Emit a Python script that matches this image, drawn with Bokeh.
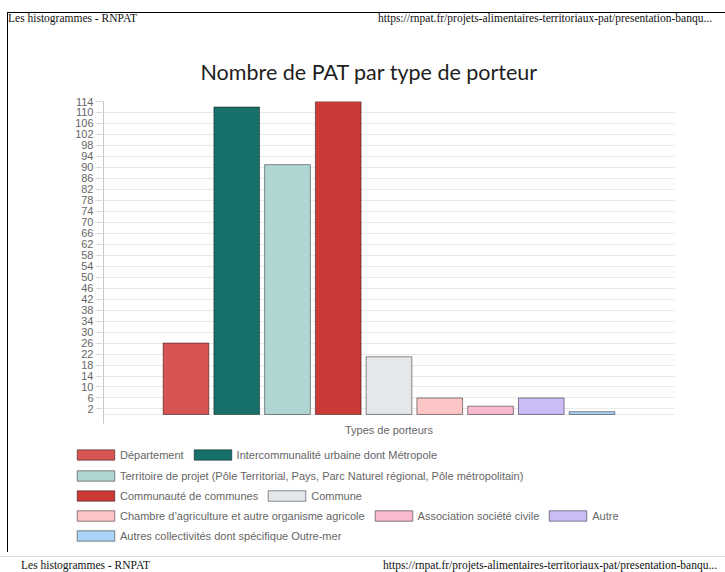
from bokeh.plotting import figure
from bokeh.models import (ColumnDataSource, Range1d, FixedTicker, Legend,
                          LegendItem, Div)
from bokeh.layouts import column, row
from bokeh.embed import file_html
from bokeh.resources import INLINE

# ---------------- data ----------------
porteurs = [
    "Département",
    "Intercommunalité urbaine dont Métropole",
    "Territoire de projet (Pôle Territorial, Pays, Parc Naturel régional, Pôle métropolitain)",
    "Communauté de communes",
    "Commune",
    "Chambre d’agriculture et autre organisme agricole",
    "Association société civile",
    "Autre",
    "Autres collectivités dont spécifique Outre-mer",
]
nombre_pat = [26, 112, 91, 114, 21, 6, 3, 6, 1]
couleurs = ["#d65452", "#17716a", "#b0d6d4", "#cc3a37", "#e4e8ea",
            "#fcc6c6", "#f7bad0", "#cbbcf6", "#a9d4f7"]
y_ticks = list(range(2, 115, 4))
x_category = "Types de porteurs"
legend_rows = [[0, 1], [2], [3, 4], [5, 6, 7], [8]]

titre = "Nombre de PAT par type de porteur"
entete_gauche = "Les histogrammes - RNPAT"
entete_droite = "https://rnpat.fr/projets-alimentaires-territoriaux-pat/presentation-banqu..."

# ---------------- bars inside the single category ----------------
n = len(porteurs)
slot = 0.8 / n
xs = [0.1 + slot * (i + 0.5) for i in range(n)]
bar_w = slot * 0.9

src = ColumnDataSource(dict(x=xs, top=nombre_pat, color=couleurs, name=porteurs))

left_border = {"background": "linear-gradient(to right, transparent 7px, #000 7px, "
                             "#000 8px, transparent 8px)"}

p = figure(width=725, height=415, output_backend="svg", toolbar_location=None,
           x_range=Range1d(0, 1), y_range=Range1d(-3.3, 114),
           min_border_left=103, min_border_right=51, min_border_top=71,
           min_border_bottom=22, tools="", title=titre)
p.outline_line_color = None
p.background_fill_color = "white"
p.border_fill_color = None
p.styles = left_border

p.title.text_font = "Lato"
p.title.text_font_size = "21.5px"
p.title.text_font_style = "normal"
p.title.text_color = "#1e1e1e"
p.title.align = "left"
p.title.offset = 97
p.title.standoff = 34

bar_kw = dict(x="x", top="top", bottom=0, width=bar_w, source=src,
              fill_color="color", line_color="black", line_alpha=0.45, line_width=1)
r = p.vbar(**bar_kw)

# y axis
p.yaxis.ticker = FixedTicker(ticks=y_ticks)
p.yaxis.axis_line_color = "#c8c8c8"
p.yaxis.major_tick_line_color = "#dcdcdc"
p.yaxis.major_tick_out = 8
p.yaxis.major_tick_in = 0
p.yaxis.minor_tick_line_color = None
p.yaxis.major_label_standoff = 2
p.yaxis.major_label_text_font = "Liberation Sans"
p.yaxis.major_label_text_font_size = "11px"
p.yaxis.major_label_text_color = "#666666"

# x axis
p.xaxis.ticker = FixedTicker(ticks=[0.5])
p.xaxis.major_label_overrides = {0.5: x_category}
p.xaxis.axis_line_color = None
p.xaxis.major_tick_line_color = None
p.xaxis.minor_tick_line_color = None
p.xaxis.major_label_standoff = -6
p.xaxis.major_label_text_font = "Liberation Sans"
p.xaxis.major_label_text_font_size = "11px"
p.xaxis.major_label_text_color = "#666666"

# grids
p.ygrid.ticker = FixedTicker(ticks=[0] + y_ticks)
p.ygrid.grid_line_color = "#e9e9e9"
p.xgrid.ticker = FixedTicker(ticks=[0, 1])
p.xgrid.grid_line_color = "#dedede"

# ---------------- legend panel (same data source, legend only) ----------------
pl = figure(width=725, height=107, output_backend="svg", toolbar_location=None,
            x_range=Range1d(0, 1), y_range=Range1d(0, 1), tools="",
            x_axis_type=None, y_axis_type=None,
            min_border_left=0, min_border_right=0, min_border_top=0,
            min_border_bottom=0)
pl.outline_line_color = None
pl.grid.visible = False
pl.background_fill_color = None
pl.border_fill_color = None
pl.styles = left_border
rl = pl.vbar(visible=False, **bar_kw)

row_bottoms = [87, 66, 46, 26, 6]
for items_idx, vy in zip(legend_rows, row_bottoms):
    items = [LegendItem(label=porteurs[i], renderers=[rl], index=i) for i in items_idx]
    leg = Legend(items=items, orientation="horizontal",
                 location=(68, vy), padding=4, margin=0,
                 spacing=5, label_standoff=1, glyph_width=47, glyph_height=13,
                 label_height=12, label_text_font="Liberation Sans",
                 label_text_font_size="11px", label_text_color="#666666",
                 border_line_alpha=0, background_fill_alpha=0)
    pl.add_layout(leg, "center")

# ---------------- page header / footer ----------------
txt_style = ("position:absolute;white-space:nowrap;font-family:'Liberation Serif';"
             "font-size:11.5px;line-height:13px;color:#111;")
header = Div(width=725, height=30, margin=0, styles={"overflow": "hidden"}, text=(
    '<div style="position:relative;width:725px;height:30px;">'
    '<div style="position:absolute;left:7px;top:12px;width:720px;height:20px;'
    'border-top:1px solid #000;border-left:1px solid #000;"></div>'
    f'<span style="{txt_style}left:8px;top:12px;">{entete_gauche}</span>'
    f'<span style="{txt_style}left:378px;top:12px;">{entete_droite}</span>'
    '</div>'))
footer = Div(width=725, height=20, margin=0, styles={"overflow": "hidden"}, text=(
    '<div style="position:relative;width:725px;height:20px;">'
    '<div style="position:absolute;left:0px;top:4px;width:725px;height:0px;'
    'border-top:1px solid #ddd;"></div>'
    f'<span style="{txt_style}left:21px;top:7px;">{entete_gauche}</span>'
    f'<span style="{txt_style}left:383px;top:7px;">{entete_droite}</span>'
    '</div>'))

page = column(header, p, row(pl, spacing=0), footer, spacing=0)
open("out.html", "w").write(file_html(page, INLINE))
